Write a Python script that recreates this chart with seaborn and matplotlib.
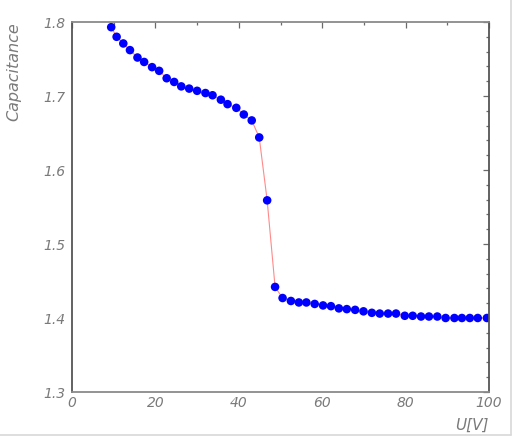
import matplotlib
matplotlib.use("Agg")
import matplotlib.pyplot as plt
import matplotlib.lines as mlines
from matplotlib.ticker import MultipleLocator
import seaborn as sns
import pandas as pd

# voltage sweep U[V] and measured capacitance
voltage = [9.4, 10.7, 12.3, 13.9, 15.7, 17.3, 19.2, 20.9, 22.7, 24.5,
           26.2, 28.1, 30.0, 32.0, 33.7, 35.7, 37.3, 39.4, 41.2, 43.1,
           44.9, 46.8, 48.7, 50.5, 52.5, 54.4, 56.2, 58.2, 60.2, 62.1,
           64.0, 65.9, 67.9, 69.9, 71.9, 73.8, 75.8, 77.7, 79.8, 81.7,
           83.7, 85.6, 87.6, 89.6, 91.7, 93.5, 95.4, 97.3, 99.5]
capacitance = [1.793, 1.780, 1.771, 1.762, 1.752, 1.746, 1.739, 1.734, 1.724, 1.719,
               1.713, 1.710, 1.707, 1.704, 1.701, 1.695, 1.689, 1.684, 1.675, 1.667,
               1.644, 1.559, 1.442, 1.427, 1.423, 1.421, 1.421, 1.419, 1.417, 1.416,
               1.413, 1.412, 1.411, 1.409, 1.407, 1.406, 1.406, 1.406, 1.403, 1.403,
               1.402, 1.402, 1.402, 1.400, 1.400, 1.400, 1.400, 1.400, 1.400]

x_ticks = [0, 20, 40, 60, 80, 100]
y_ticks = [1.3, 1.4, 1.5, 1.6, 1.7, 1.8]

df = pd.DataFrame({"U": voltage, "C": capacitance})

sns.set_style("white")
plt.rcParams['font.family'] = ['DejaVu Sans']

grey = '#7a7a7a'
fig = plt.figure(figsize=(5.15, 4.36), dpi=100)
ax = fig.add_axes([72 / 515, 44 / 436, 417 / 515, 370 / 436])

sns.lineplot(data=df, x="U", y="C", ax=ax, color='#ff8a8a', linewidth=0.8, zorder=1)
sns.scatterplot(data=df, x="U", y="C", ax=ax, color='#0000ff', s=38,
                edgecolor='none', zorder=2)

ax.set_xlim(0, 100)
ax.set_ylim(1.3, 1.8)
ax.set_xticks(x_ticks)
ax.set_yticks(y_ticks)
ax.set_xticklabels([str(v) for v in x_ticks])
ax.set_yticklabels([f"{v:.1f}" for v in y_ticks])
ax.xaxis.set_minor_locator(MultipleLocator(10))
ax.yaxis.set_minor_locator(MultipleLocator(0.02))

ax.tick_params(which='both', direction='in', top=True, right=True,
               color='#6a6a6a', width=0.9)
ax.tick_params(which='major', length=4.5, labelsize=10, labelcolor=grey)
ax.tick_params(which='minor', length=2.2)
ax.tick_params(axis='x', pad=3)
ax.tick_params(axis='y', pad=5)
for lab in ax.get_xticklabels() + ax.get_yticklabels():
    lab.set_fontstyle('italic')

for side in ['left', 'right']:
    ax.spines[side].set_color('#555555')
    ax.spines[side].set_linewidth(1.3)
for side in ['top', 'bottom']:
    ax.spines[side].set_color('#8a8a8a')
    ax.spines[side].set_linewidth(1.3)

ax.set_xlabel("")
ax.set_ylabel("")
fig.text(489 / 515, 1 - 425 / 436, "U[V]", ha='right', va='center',
         fontsize=11, style='italic', color=grey)
fig.text(14 / 515, 1 - 22 / 436, "Capacitance", ha='center', va='top',
         rotation=90, fontsize=11.5, style='italic', color=grey)

# light frame on the right and bottom edge
fig.add_artist(mlines.Line2D([511 / 515, 511 / 515], [1 / 436, 1], color='#d8d8d8', lw=1.2))
fig.add_artist(mlines.Line2D([0, 511 / 515], [1 / 436, 1 / 436], color='#d8d8d8', lw=1.2))

plt.savefig("out.png", dpi=100)
plt.close()
